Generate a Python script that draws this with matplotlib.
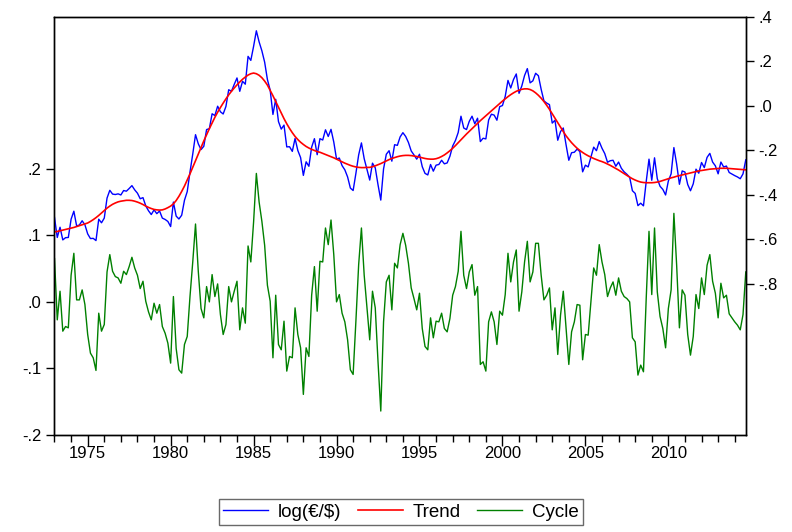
import numpy as np
import matplotlib
matplotlib.use("Agg")
import matplotlib.pyplot as plt
from matplotlib.ticker import FuncFormatter, MultipleLocator, FixedLocator

# bimonthly observations, 1973.0 .. 2014.67 (six per year)
START_YEAR = 1973.0
STEP = 1 / 6

# HP trend of log(EUR/USD)
trend = [
    -0.566, -0.564, -0.561, -0.558, -0.555, -0.552,  # 1973
    -0.549, -0.546, -0.542, -0.538, -0.534, -0.530,  # 1974
    -0.526, -0.519, -0.511, -0.502, -0.492, -0.481,  # 1975
    -0.470, -0.459, -0.450, -0.442, -0.436, -0.431,  # 1976
    -0.428, -0.426, -0.424, -0.424, -0.425, -0.428,  # 1977
    -0.432, -0.437, -0.443, -0.450, -0.456, -0.461,  # 1978
    -0.465, -0.467, -0.468, -0.467, -0.463, -0.457,  # 1979
    -0.450, -0.440, -0.425, -0.406, -0.384, -0.360,  # 1980
    -0.333, -0.305, -0.276, -0.246, -0.216, -0.186,  # 1981
    -0.157, -0.129, -0.102, -0.076, -0.051, -0.028,  # 1982
    -0.007, 0.013, 0.032, 0.050, 0.066, 0.081,       # 1983
    0.095, 0.108, 0.120, 0.130, 0.139, 0.145,        # 1984
    0.148, 0.145, 0.138, 0.127, 0.112, 0.094,        # 1985
    0.070, 0.046, 0.020, -0.006, -0.032, -0.057,     # 1986
    -0.080, -0.101, -0.120, -0.137, -0.151, -0.163,  # 1987
    -0.173, -0.182, -0.189, -0.195, -0.200, -0.205,  # 1988
    -0.208, -0.213, -0.218, -0.223, -0.228, -0.233,  # 1989
    -0.239, -0.245, -0.251, -0.257, -0.262, -0.267,  # 1990
    -0.271, -0.274, -0.276, -0.277, -0.277, -0.276,  # 1991
    -0.276, -0.273, -0.269, -0.264, -0.259, -0.253,  # 1992
    -0.247, -0.241, -0.236, -0.232, -0.228, -0.225,  # 1993
    -0.223, -0.222, -0.222, -0.223, -0.225, -0.227,  # 1994
    -0.230, -0.233, -0.236, -0.238, -0.239, -0.239,  # 1995
    -0.237, -0.233, -0.227, -0.220, -0.211, -0.201,  # 1996
    -0.190, -0.178, -0.165, -0.152, -0.139, -0.126,  # 1997
    -0.114, -0.102, -0.090, -0.078, -0.066, -0.055,  # 1998
    -0.044, -0.033, -0.022, -0.011, 0.000, 0.011,    # 1999
    0.022, 0.032, 0.042, 0.051, 0.059, 0.066,        # 2000
    0.071, 0.075, 0.077, 0.077, 0.074, 0.068,        # 2001
    0.059, 0.048, 0.035, 0.020, 0.003, -0.015,       # 2002
    -0.035, -0.055, -0.075, -0.095, -0.115, -0.134,  # 2003
    -0.150, -0.165, -0.178, -0.190, -0.200, -0.209,  # 2004
    -0.217, -0.224, -0.230, -0.236, -0.241, -0.246,  # 2005
    -0.250, -0.255, -0.261, -0.267, -0.274, -0.281,  # 2006
    -0.288, -0.296, -0.304, -0.312, -0.320, -0.327,  # 2007
    -0.333, -0.338, -0.342, -0.344, -0.345, -0.345,  # 2008
    -0.345, -0.344, -0.342, -0.339, -0.335, -0.331,  # 2009
    -0.327, -0.323, -0.320, -0.316, -0.313, -0.310,  # 2010
    -0.307, -0.304, -0.301, -0.298, -0.295, -0.292,  # 2011
    -0.290, -0.288, -0.286, -0.284, -0.283, -0.282,  # 2012
    -0.281, -0.280, -0.280, -0.280, -0.281, -0.282,  # 2013
    -0.283, -0.284, -0.285, -0.286, -0.287,          # 2014
]

# HP cycle
cycle = [
    0.065, -0.027, 0.016, -0.044, -0.037, -0.039,    # 1973
    0.040, 0.073, 0.003, 0.003, 0.018, -0.004,       # 1974
    -0.049, -0.077, -0.084, -0.103, -0.017, -0.044,  # 1975
    -0.034, 0.045, 0.071, 0.046, 0.038, 0.036,       # 1976
    0.028, 0.046, 0.041, 0.053, 0.067, 0.051,        # 1977
    0.040, 0.020, 0.031, 0.001, -0.015, -0.027,      # 1978
    -0.002, -0.017, -0.004, -0.037, -0.047, -0.062,  # 1979
    -0.092, 0.008, -0.070, -0.102, -0.107, -0.064,   # 1980
    -0.052, 0.008, 0.060, 0.117, 0.046, -0.010,      # 1981
    -0.024, 0.023, 0.000, 0.041, 0.008, 0.027,       # 1982
    -0.019, -0.049, -0.034, 0.023, 0.000, 0.016,     # 1983
    0.031, -0.042, -0.009, -0.032, 0.084, 0.060,     # 1984
    0.120, 0.193, 0.150, 0.121, 0.085, 0.025,        # 1985
    0.001, -0.084, 0.010, -0.064, -0.072, -0.029,    # 1986
    -0.104, -0.082, -0.084, -0.009, -0.049, -0.069,  # 1987
    -0.139, -0.069, -0.082, 0.010, 0.053, -0.014,    # 1988
    0.061, 0.060, 0.111, 0.086, 0.123, 0.071,        # 1989
    0.000, 0.011, -0.017, -0.030, -0.057, -0.102,    # 1990
    -0.109, -0.029, 0.056, 0.111, 0.040, -0.009,     # 1991
    -0.057, 0.016, -0.009, -0.090, -0.164, -0.030,   # 1992
    0.030, 0.040, -0.012, 0.058, 0.051, 0.086,       # 1993
    0.103, 0.085, 0.058, 0.021, 0.005, -0.012,       # 1994
    0.013, -0.040, -0.067, -0.072, -0.024, -0.054,   # 1995
    -0.029, -0.030, -0.017, -0.040, -0.045, -0.025,  # 1996
    0.010, 0.023, 0.046, 0.106, 0.040, 0.020,        # 1997
    0.045, 0.056, 0.010, 0.023, -0.094, -0.090,      # 1998
    -0.104, -0.030, -0.015, -0.030, -0.064, -0.014,  # 1999
    -0.020, 0.011, 0.073, 0.030, 0.060, 0.078,       # 2000
    -0.014, 0.015, 0.060, 0.091, 0.030, 0.045,       # 2001
    0.088, 0.088, 0.040, 0.003, 0.010, 0.021,        # 2002
    -0.042, -0.009, -0.079, -0.020, 0.016, -0.040,   # 2003
    -0.094, -0.045, -0.030, -0.004, -0.005, -0.087,  # 2004
    -0.049, -0.050, 0.000, 0.051, 0.040, 0.086,      # 2005
    0.060, 0.041, 0.008, 0.021, 0.030, 0.010,        # 2006
    0.036, 0.016, 0.008, 0.005, 0.000, -0.054,       # 2007
    -0.060, -0.110, -0.095, -0.105, 0.006, 0.106,    # 2008
    0.011, 0.111, 0.015, -0.022, -0.040, -0.069,     # 2009
    -0.010, 0.018, 0.133, 0.055, -0.039, 0.018,      # 2010
    0.010, -0.049, -0.080, -0.052, 0.011, -0.010,    # 2011
    0.036, 0.011, 0.055, 0.071, 0.031, 0.013,        # 2012
    -0.024, 0.028, 0.006, 0.010, -0.018, -0.024,     # 2013
    -0.030, -0.035, -0.042, -0.019, 0.045,           # 2014
]

years = START_YEAR + STEP * np.arange(len(trend))
trend = np.array(trend)
cycle = np.array(cycle)
log_rate = trend + cycle  # HP identity: series = trend + cycle

plt.rcParams["font.family"] = ["Liberation Sans", "DejaVu Sans"]
plt.rcParams["font.size"] = 12


def short_fmt(v, _pos=None):
    s = f"{v:.1f}"
    return s.replace("0.", ".", 1)


fig = plt.figure(figsize=(7.92, 5.32), dpi=100)
ax = fig.add_axes([54 / 792, 1 - 435 / 532, 692 / 792, 418 / 532])
ax2 = ax.twinx()

l_cyc, = ax.plot(years, cycle, color="#008000", lw=1.0)
l_log, = ax2.plot(years, log_rate, color="#0000ff", lw=1.0)
l_tr, = ax2.plot(years, trend, color="#ff0000", lw=1.2)

ax.set_xlim(1972.97, 2014.68)
ax.set_ylim(-0.2, 0.428)
ax2.set_ylim(-1.479, 0.4)

ax.yaxis.set_major_locator(FixedLocator([-0.2, -0.1, 0.0, 0.1, 0.2]))
ax2.yaxis.set_major_locator(FixedLocator([-0.8, -0.6, -0.4, -0.2, 0.0, 0.2, 0.4]))
ax.yaxis.set_major_formatter(FuncFormatter(short_fmt))
ax2.yaxis.set_major_formatter(FuncFormatter(short_fmt))

ax.xaxis.set_major_locator(MultipleLocator(5))
ax.xaxis.set_minor_locator(MultipleLocator(1))
ax.xaxis.set_major_formatter(FuncFormatter(lambda v, p: f"{int(round(v))}"))

ax.tick_params(axis="x", which="major", direction="out", length=8, width=1, pad=0)
ax.tick_params(axis="x", which="minor", direction="out", length=5, width=1)
ax.tick_params(axis="y", direction="out", length=6, width=1, pad=3)
ax2.tick_params(axis="y", direction="out", length=6, width=1, pad=3)

for a in (ax, ax2):
    for sp in a.spines.values():
        sp.set_linewidth(1.0)
        sp.set_color("black")

leg = fig.legend([l_log, l_tr, l_cyc], ["log(€/$)", "Trend", "Cycle"],
                 loc="center", bbox_to_anchor=(401 / 792, 1 - 512 / 532), ncol=3,
                 frameon=True, fancybox=False, edgecolor="#444444",
                 fontsize=13.5, handlelength=2.4, handletextpad=0.5,
                 columnspacing=0.9, borderpad=0.25)
leg.get_frame().set_linewidth(1.0)

fig.savefig("out.png", dpi=100)
